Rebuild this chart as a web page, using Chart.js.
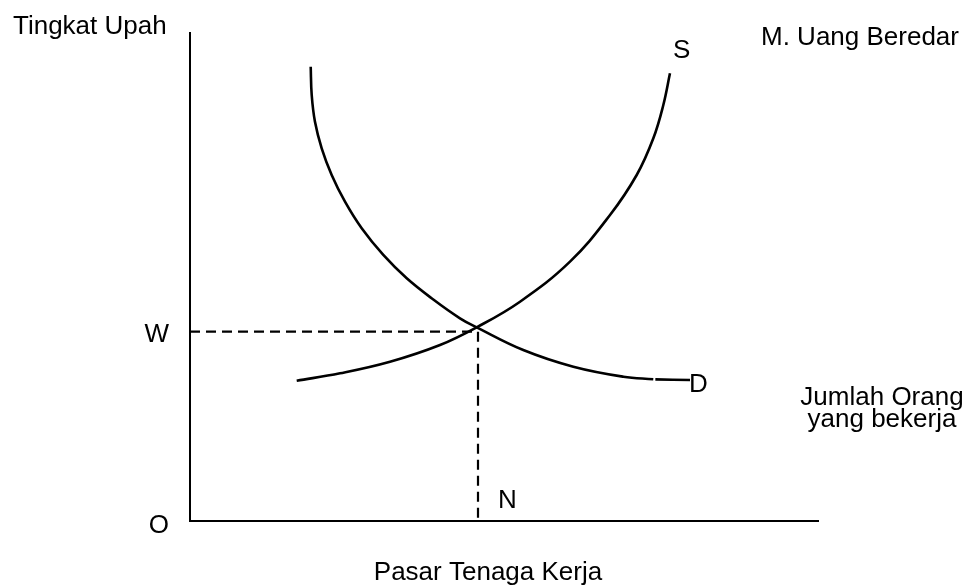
<!DOCTYPE html>
<html>
<head>
<meta charset="utf-8">
<script src="https://cdn.jsdelivr.net/npm/chart.js@4"></script>
<style>
  html, body { margin: 0; padding: 0; background: #ffffff; }
  #wrap { width: 971px; height: 587px; }
</style>
</head>
<body>
<div id="wrap"><canvas id="pasarChart" width="971" height="587"></canvas></div>
<script>
// jumlah orang yang bekerja (x) dan tingkat upah (y), dibaca dari gambar
// null = putus kecil pada kurva D
var demandQty  = [1.922, 1.938, 1.990, 2.097, 2.256, 2.468, 2.734, 3.078, 3.451, 3.874, 4.299, 4.565, 5.307, 6.104, 6.900, 7.377, 7.39, 7.41, 7.962];
var demandWage = [9.309, 8.730, 8.182, 7.637, 7.090, 6.543, 5.998, 5.451, 4.973, 4.539, 4.154, 3.969, 3.504, 3.162, 2.957, 2.904, null, 2.902, 2.889];

var supplyQty  = [1.699, 2.389, 3.185, 3.981, 4.565, 5.255, 6.051, 6.688, 7.113, 7.378, 7.537, 7.643];
var supplyWage = [2.875, 3.027, 3.264, 3.607, 3.969, 4.494, 5.314, 6.270, 7.090, 7.842, 8.525, 9.174];

// titik keseimbangan
var eqQty = 4.586;
var eqWage = 3.88;

function toPoints(xs, ys) {
    return xs.map(function (x, i) { return { x: x, y: ys[i] }; });
}

var labelPlugin = {
    id: 'labels',
    afterDraw: function (chart) {
        var ctx = chart.ctx;
        var xs = chart.scales.x, ys = chart.scales.y;
        ctx.save();
        ctx.fillStyle = '#000';
        ctx.font = '26px "Liberation Sans", Arial, sans-serif';
        ctx.textBaseline = 'alphabetic';

        ctx.textAlign = 'left';
        ctx.fillText('Tingkat Upah', 13, 34);
        ctx.fillText('M. Uang Beredar', 761, 45);

        var sLast = supplyQty.length - 1;
        ctx.fillText('S', xs.getPixelForValue(supplyQty[sLast]) + 3, 58);
        var dLast = demandQty.length - 1;
        ctx.fillText('D', xs.getPixelForValue(demandQty[dLast]) - 1, ys.getPixelForValue(demandWage[dLast]) + 12);

        ctx.textAlign = 'right';
        ctx.fillText('W', 169, ys.getPixelForValue(eqWage) + 10);
        ctx.fillText('O', 169, ys.getPixelForValue(0) + 12);

        ctx.textAlign = 'left';
        ctx.fillText('N', xs.getPixelForValue(eqQty) + 20, ys.getPixelForValue(0) - 13);

        ctx.textAlign = 'center';
        ctx.fillText('Jumlah Orang', 882, 405);
        ctx.fillText('yang bekerja', 882, 427);
        ctx.fillText('Pasar Tenaga Kerja', 488, 580);
        ctx.restore();
    }
};

var ctx = document.getElementById('pasarChart').getContext('2d');

var graph = new Chart(ctx, {
    type: 'line',
    data: {
        datasets: [
            {
                label: 'D',
                data: toPoints(demandQty, demandWage),
                borderColor: '#000',
                borderWidth: 2.6,
                pointRadius: 0,
                tension: 0.4,
                spanGaps: false,
                fill: false
            },
            {
                label: 'S',
                data: toPoints(supplyQty, supplyWage),
                borderColor: '#000',
                borderWidth: 2.6,
                pointRadius: 0,
                tension: 0.4,
                fill: false
            },
            {
                label: 'W',
                data: [{ x: 0, y: eqWage }, { x: eqQty, y: eqWage }],
                borderColor: '#000',
                borderWidth: 2.2,
                borderDash: [10, 6],
                pointRadius: 0,
                tension: 0
            },
            {
                label: 'N',
                data: [{ x: eqQty, y: eqWage }, { x: eqQty, y: 0 }],
                borderColor: '#000',
                borderWidth: 2.2,
                borderDash: [10, 6],
                pointRadius: 0,
                tension: 0
            }
        ]
    },
    options: {
        responsive: false,
        animation: false,
        layout: { padding: { left: 190, right: 153, top: 33, bottom: 66 } },
        plugins: {
            legend: { display: false },
            tooltip: { enabled: false },
            title: { display: false }
        },
        scales: {
            x: {
                type: 'linear',
                min: 0,
                max: 10,
                ticks: { display: false },
                grid: { display: false, drawTicks: false },
                border: { display: true, color: '#000', width: 2 }
            },
            y: {
                type: 'linear',
                min: 0,
                max: 10,
                ticks: { display: false },
                grid: { display: false, drawTicks: false },
                border: { display: true, color: '#000', width: 2 }
            }
        }
    },
    plugins: [labelPlugin]
});
</script>
</body>
</html>
